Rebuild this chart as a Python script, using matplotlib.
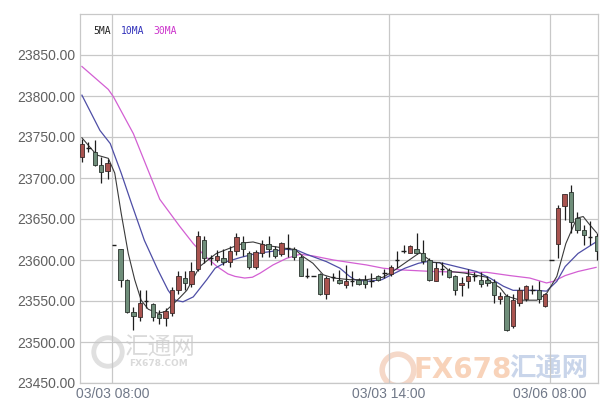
import numpy as np
import matplotlib
matplotlib.use("Agg")
import matplotlib.pyplot as plt

# candle data (index order, left to right)
opens = [23726, 23736, 23732, 23716, 23709, 23618, 23613, 23576, 23536, 23530,
         23550, 23546, 23534, 23529, 23535, 23563, 23578, 23571, 23589, 23625,
         23602, 23600, 23603, 23598, 23611, 23622, 23609, 23591, 23608, 23619,
         23613, 23607, 23615, 23614, 23604, 23580, 23580, 23583, 23559, 23579,
         23576, 23569, 23574, 23576, 23576, 23574, 23580, 23584, 23583, 23600,
         23611, 23609, 23614, 23609, 23600, 23574, 23589, 23588, 23580, 23569,
         23574, 23580, 23576, 23576, 23573, 23552, 23556, 23519, 23547, 23552,
         23564, 23563, 23544, 23600, 23620, 23666, 23683, 23651, 23637, 23628,
         23629]
closes = [23741, 23736, 23716, 23707, 23718, 23618, 23576, 23536, 23532, 23548,
          23550, 23530, 23529, 23538, 23563, 23580, 23572, 23586, 23629, 23602,
          23602, 23605, 23598, 23611, 23628, 23613, 23591, 23610, 23620, 23613,
          23605, 23621, 23615, 23604, 23581, 23580, 23580, 23559, 23578, 23579,
          23572, 23574, 23574, 23571, 23571, 23574, 23576, 23584, 23592, 23600,
          23611, 23617, 23608, 23599, 23576, 23590, 23589, 23579, 23564, 23572,
          23581, 23580, 23571, 23572, 23557, 23556, 23515, 23551, 23563, 23568,
          23564, 23553, 23559, 23600, 23664, 23680, 23646, 23637, 23630, 23628,
          23611]
highs = [23747, 23744, 23746, 23726, 23723, 23618, 23613, 23577, 23543, 23563,
         23564, 23548, 23539, 23541, 23567, 23586, 23586, 23598, 23635, 23629,
         23606, 23612, 23613, 23617, 23633, 23629, 23611, 23612, 23624, 23629,
         23617, 23622, 23632, 23616, 23606, 23590, 23580, 23584, 23580, 23584,
         23588, 23594, 23586, 23578, 23582, 23584, 23582, 23589, 23594, 23611,
         23618, 23618, 23633, 23624, 23602, 23598, 23597, 23590, 23582, 23579,
         23589, 23585, 23585, 23580, 23577, 23561, 23559, 23559, 23567, 23569,
         23569, 23574, 23560, 23600, 23667, 23681, 23691, 23659, 23643, 23647,
         23633]
lows = [23720, 23732, 23715, 23694, 23699, 23618, 23567, 23535, 23515, 23526,
        23542, 23526, 23522, 23520, 23532, 23559, 23563, 23567, 23586, 23596,
        23594, 23597, 23594, 23592, 23606, 23605, 23589, 23589, 23604, 23604,
        23603, 23605, 23604, 23600, 23580, 23578, 23580, 23557, 23552, 23574,
        23571, 23566, 23568, 23569, 23566, 23567, 23574, 23578, 23581, 23590,
        23608, 23608, 23607, 23595, 23575, 23574, 23582, 23578, 23557, 23556,
        23566, 23574, 23567, 23568, 23548, 23546, 23513, 23517, 23544, 23550,
        23559, 23547, 23543, 23600, 23603, 23649, 23633, 23633, 23618, 23618,
        23600]

# moving averages (x in candle index)
ma5_x = [0.0, 1.2, 2.3, 4.1, 5.1, 6.1, 7.2, 8.2, 9.2, 10.3, 11.8, 12.9, 14.0,
         15.2, 16.3, 17.2, 18.3, 19.9, 20.9, 22.2, 23.5, 25.3, 26.6, 28.5, 30.2,
         31.8, 33.1, 34.4, 35.9, 37.5, 39.1, 41.6, 44.2, 46.8, 48.3, 50.5, 52.5,
         54.5, 55.6, 57.2, 59.5, 62.9, 63.4, 65.0, 66.0, 68.1, 70.7, 72.2, 73.8,
         75.2, 76.9, 77.9, 78.7, 80.0]
ma5_y = [23749, 23738, 23728, 23724, 23706, 23657, 23608, 23576, 23551, 23540,
         23535, 23537, 23545, 23554, 23563, 23576, 23592, 23602, 23608, 23612,
         23616, 23621, 23622, 23618, 23616, 23614, 23613, 23604, 23596, 23582,
         23578, 23576, 23576, 23579, 23586, 23598, 23609, 23597, 23597, 23586,
         23584, 23579, 23574, 23566, 23556, 23551, 23551, 23559, 23580, 23620,
         23651, 23653, 23645, 23633]
ma10_x = [0.0, 2.8, 4.4, 6.1, 7.7, 9.7, 11.8, 13.4, 14.5, 15.7, 17.3, 19.4,
          20.7, 22.5, 24.6, 26.6, 28.1, 31.8, 33.4, 34.9, 38.0, 40.1, 41.6,
          42.4, 44.4, 46.6, 48.1, 50.2, 52.3, 53.6, 56.1, 58.7, 61.3, 63.4,
          65.5, 67.0, 70.7, 72.2, 73.8, 75.1, 77.1, 79.9]
ma10_y = [23801, 23758, 23742, 23706, 23669, 23624, 23588, 23563, 23551, 23549,
          23555, 23576, 23590, 23598, 23603, 23607, 23609, 23613, 23612, 23607,
          23598, 23590, 23580, 23576, 23574, 23576, 23582, 23590, 23596, 23598,
          23596, 23591, 23586, 23578, 23568, 23563, 23563, 23562, 23574, 23592,
          23608, 23622]
ma30_x = [0.0, 4.1, 4.9, 8.0, 12.1, 15.2, 17.3, 19.1, 21.0, 22.7, 23.8, 25.3,
          26.5, 27.7, 29.7, 31.8, 33.9, 35.9, 39.1, 41.6, 44.2, 46.8, 49.4,
          54.5, 59.8, 62.9, 66.5, 69.6, 72.2, 73.3, 75.1, 77.1, 79.9]
ma30_y = [23836, 23808, 23799, 23754, 23674, 23641, 23620, 23605, 23592, 23583,
          23580, 23578, 23579, 23584, 23594, 23602, 23607, 23605, 23600, 23597,
          23594, 23590, 23588, 23586, 23585, 23585, 23581, 23578, 23572, 23574,
          23581, 23586, 23591]

yticks = [23450, 23500, 23550, 23600, 23650, 23700, 23750, 23800, 23850]
xtick_pos = [4.75, 47.7, 72.7]
xtick_labels = ["03/03 08:00", "03/03 14:00", "03/06 08:00"]

up_col = "#a9534f"
down_col = "#6f8e7a"

fig = plt.figure(figsize=(6.07, 4.07), dpi=100)
ax = fig.add_axes([80 / 607, 24 / 407, 518 / 607, 369 / 407])

ax.set_xlim(-0.3, 80.2)
ax.set_ylim(23450, 23900)

# grid
for v in yticks:
    ax.axhline(v, color="#c8c8c8", lw=0.9, zorder=1)
for p in xtick_pos:
    ax.axvline(p, color="#c8c8c8", lw=0.9, zorder=1)
for s in ax.spines.values():
    s.set_color("#c8c8c8")
    s.set_linewidth(0.9)

# watermarks
cjk = ["Noto Sans CJK SC", "DejaVu Sans"]
def fx(px):
    return (px - 80) / 518
def fy(py):
    return (383 - py) / 369
ax.scatter([fx(108)], [fy(352)], s=420, facecolors="none", edgecolors="#e0e0e0",
           linewidths=3.5, transform=ax.transAxes, zorder=0.5)
ax.text(fx(159), fy(348), "汇通网", transform=ax.transAxes, fontsize=17,
        family=cjk, color="#dadada", ha="center", va="center", zorder=0.5)
ax.text(fx(159), fy(364), "FX678.COM", transform=ax.transAxes, fontsize=6.5,
        fontweight="bold", color="#dadada", ha="center", va="center", zorder=0.5)
ax.scatter([fx(398)], [fy(370)], s=520, facecolors="none", edgecolors="#f5d8c8",
           linewidths=4, transform=ax.transAxes, zorder=0.5)
ax.text(fx(463), fy(370), "FX678", transform=ax.transAxes, fontsize=20,
        fontweight="bold", color="#f8d3ba", ha="center", va="center", zorder=0.5)
ax.text(fx(549), fy(369), "汇通网", transform=ax.transAxes, fontsize=19,
        family=cjk, fontweight="bold", color="#c9d5ea", ha="center", va="center",
        zorder=0.5)

# moving averages
ax.plot(ma30_x, ma30_y, color="#d35fd3", lw=0.9, zorder=3)
ax.plot(ma10_x, ma10_y, color="#4e4ea6", lw=0.9, zorder=3)
ax.plot(ma5_x, ma5_y, color="#3a3a3a", lw=0.8, zorder=3)

# candles
o = np.array(opens)
c = np.array(closes)
h = np.array(highs)
l = np.array(lows)
x = np.arange(len(o))
ax.vlines(x, l, h, color="#1e1e1e", lw=0.9, zorder=4)
w = 0.68
up = c > o
dn = c < o
eq = c == o
ax.bar(x[up], (c - o)[up], bottom=o[up], width=w, color=up_col,
       edgecolor="#3a2a2a", lw=0.6, zorder=5)
ax.bar(x[dn], (c - o)[dn], bottom=o[dn], width=w, color=down_col,
       edgecolor="#2a332d", lw=0.6, zorder=5)
ax.hlines(c[eq], x[eq] - w / 2, x[eq] + w / 2, color="#1e1e1e", lw=1.0, zorder=5)

# axes ticks
ax.set_yticks(yticks)
ax.set_yticklabels(["%.2f" % v for v in yticks], family="Liberation Sans")
ax.set_xticks(xtick_pos)
ax.set_xticklabels(xtick_labels, family="Liberation Sans")
ax.tick_params(length=0)
ax.tick_params(axis="y", labelsize=10, labelcolor="#606060", pad=3)
ax.tick_params(axis="x", labelsize=10, labelcolor="#707888", pad=3)

# legend
ax.text(fx(93), fy(31), "5MA", transform=ax.transAxes, fontsize=7,
        family="DejaVu Sans Mono", color="#222222", va="center")
ax.text(fx(121), fy(31), "10MA", transform=ax.transAxes, fontsize=7,
        family="DejaVu Sans Mono", color="#3333bb", va="center")
ax.text(fx(153), fy(31), "30MA", transform=ax.transAxes, fontsize=7,
        family="DejaVu Sans Mono", color="#cc33cc", va="center")

fig.savefig("out.png", dpi=100)
